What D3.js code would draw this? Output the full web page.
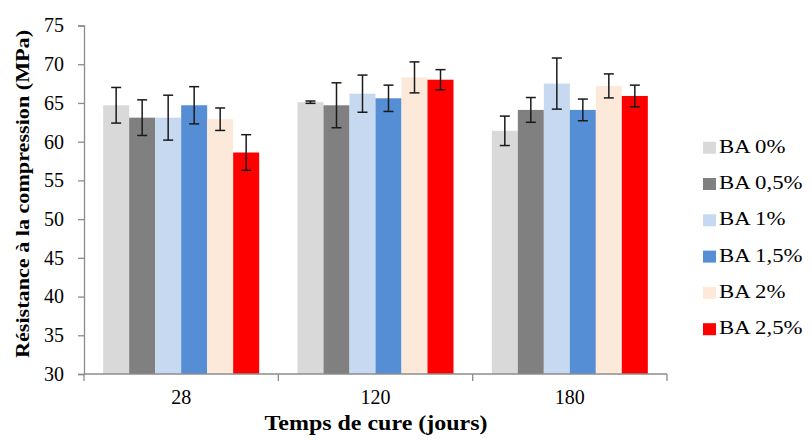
<!DOCTYPE html>
<html>
<head>
<meta charset="utf-8">
<script src="https://cdn.jsdelivr.net/npm/d3@7"></script>
<style>
  body { margin: 0; background: #fff; }
  text { font-family: "Liberation Serif", "Times New Roman", serif; fill: #000; }
</style>
</head>
<body>
<div id="chart"></div>
<script>
// curing time groups and additive series
var categories = ["28", "120", "180"];
var series = ["BA 0%", "BA 0,5%", "BA 1%", "BA 1,5%", "BA 2%", "BA 2,5%"];
var colors = ["#d9d9d9", "#808080", "#c6d9f1", "#558ed5", "#fde9d9", "#ff0000"];

// mean values, one array per series (28, 120, 180 days)
var ba0   = [64.7, 65.1, 61.4];
var ba05  = [63.1, 64.7, 64.1];
var ba1   = [63.1, 66.2, 67.5];
var ba15  = [64.7, 65.6, 64.1];
var ba2   = [62.9, 68.3, 67.2];
var ba25  = [58.6, 68.0, 65.9];

// standard deviations (error bars)
var err0  = [2.3, 0.15, 1.9];
var err05 = [2.3, 2.9, 1.6];
var err1  = [2.9, 2.4, 3.3];
var err15 = [2.4, 1.7, 1.4];
var err2  = [1.45, 2.0, 1.55];
var err25 = [2.3, 1.3, 1.4];

var yTicks = [30, 35, 40, 45, 50, 55, 60, 65, 70, 75];

var values = [ba0, ba05, ba1, ba15, ba2, ba25];
var errors = [err0, err05, err1, err15, err2, err25];

var W = 812, H = 441;
var svg = d3.select("#chart").append("svg")
  .attr("width", W).attr("height", H);

// plot area (don't call it "top", window.top is read only)
var pLeft = 84, pRight = 667, pTop = 25.5, pBottom = 374;

var x0 = d3.scaleBand().domain(categories).range([pLeft, pRight]).padding(0);
var x1 = d3.scaleBand().domain(series).range([0, x0.bandwidth()])
  .paddingInner(0).paddingOuter(0.737);
var y = d3.scaleLinear().domain([30, 75]).range([pBottom, pTop]);

// flat table for bars
var table = [];
categories.forEach(function(c, ci) {
  series.forEach(function(s, si) {
    table.push({cat: c, ser: s, si: si, v: values[si][ci], e: errors[si][ci]});
  });
});

svg.append("g").selectAll("rect")
  .data(table).enter().append("rect")
  .attr("x", function(d) { return x0(d.cat) + x1(d.ser); })
  .attr("y", function(d) { return y(d.v); })
  .attr("width", x1.bandwidth())
  .attr("height", function(d) { return pBottom - y(d.v); })
  .attr("fill", function(d) { return colors[d.si]; });

// error bars
var eb = svg.append("g").attr("stroke", "#1a1a1a").attr("stroke-width", 1.5);
table.forEach(function(d) {
  var cx = x0(d.cat) + x1(d.ser) + x1.bandwidth() / 2;
  var y1 = y(d.v + d.e), y2 = y(d.v - d.e);
  eb.append("line").attr("x1", cx).attr("x2", cx).attr("y1", y1).attr("y2", y2);
  eb.append("line").attr("x1", cx - 5).attr("x2", cx + 5).attr("y1", y1).attr("y2", y1);
  eb.append("line").attr("x1", cx - 5).attr("x2", cx + 5).attr("y1", y2).attr("y2", y2);
});

// y axis
var yAxis = svg.append("g")
  .attr("transform", "translate(" + pLeft + ",0)")
  .call(d3.axisLeft(y).tickValues(yTicks).tickSize(6).tickPadding(14));
yAxis.select(".domain").attr("stroke", "#8c8c8c").attr("stroke-width", 1.3);
yAxis.selectAll(".tick line").attr("stroke", "#8c8c8c").attr("stroke-width", 1.3);
yAxis.selectAll(".tick text")
  .attr("font-family", "Liberation Serif").attr("font-size", 20)
  .attr("fill", "#000");

// x axis: ticks sit on the group boundaries
var xAxis = svg.append("g")
  .attr("transform", "translate(0," + pBottom + ")");
xAxis.append("line").attr("x1", pLeft).attr("x2", pRight)
  .attr("stroke", "#8c8c8c").attr("stroke-width", 1.3);
var bounds = categories.map(function(c) { return x0(c); }).concat([pRight]);
xAxis.selectAll(".bt").data(bounds).enter().append("line")
  .attr("x1", function(d) { return d; }).attr("x2", function(d) { return d; })
  .attr("y1", 0).attr("y2", 7)
  .attr("stroke", "#8c8c8c").attr("stroke-width", 1.3);
xAxis.selectAll(".lbl").data(categories).enter().append("text")
  .attr("x", function(d) { return x0(d) + x0.bandwidth() / 2; })
  .attr("y", 30)
  .attr("text-anchor", "middle")
  .attr("font-family", "Liberation Serif")
  .attr("font-size", 20)
  .text(function(d) { return d; });

// axis titles
svg.append("text")
  .attr("transform", "translate(29,194) rotate(-90)")
  .attr("text-anchor", "middle")
  .attr("font-family", "Liberation Serif")
  .attr("font-weight", "bold").attr("font-size", 18)
  .attr("textLength", 328).attr("lengthAdjust", "spacingAndGlyphs")
  .text("Résistance à la compression (MPa)");

svg.append("text")
  .attr("x", 376).attr("y", 430)
  .attr("text-anchor", "middle")
  .attr("font-family", "Liberation Serif")
  .attr("font-weight", "bold").attr("font-size", 20)
  .attr("textLength", 223).attr("lengthAdjust", "spacingAndGlyphs")
  .text("Temps de cure (jours)");

// legend
var lg = svg.append("g").attr("transform", "translate(703,152.7)");
series.forEach(function(s, i) {
  var row = lg.append("g").attr("transform", "translate(0," + (i * 36.3) + ")");
  row.append("rect").attr("x", 0).attr("y", -11).attr("width", 13).attr("height", 12)
    .attr("fill", colors[i]);
  row.append("text")
    .attr("transform", "translate(16,0) scale(1.2,1)")
    .attr("font-family", "Liberation Serif")
    .attr("font-size", 19)
    .text(s);
});
</script>
</body>
</html>
